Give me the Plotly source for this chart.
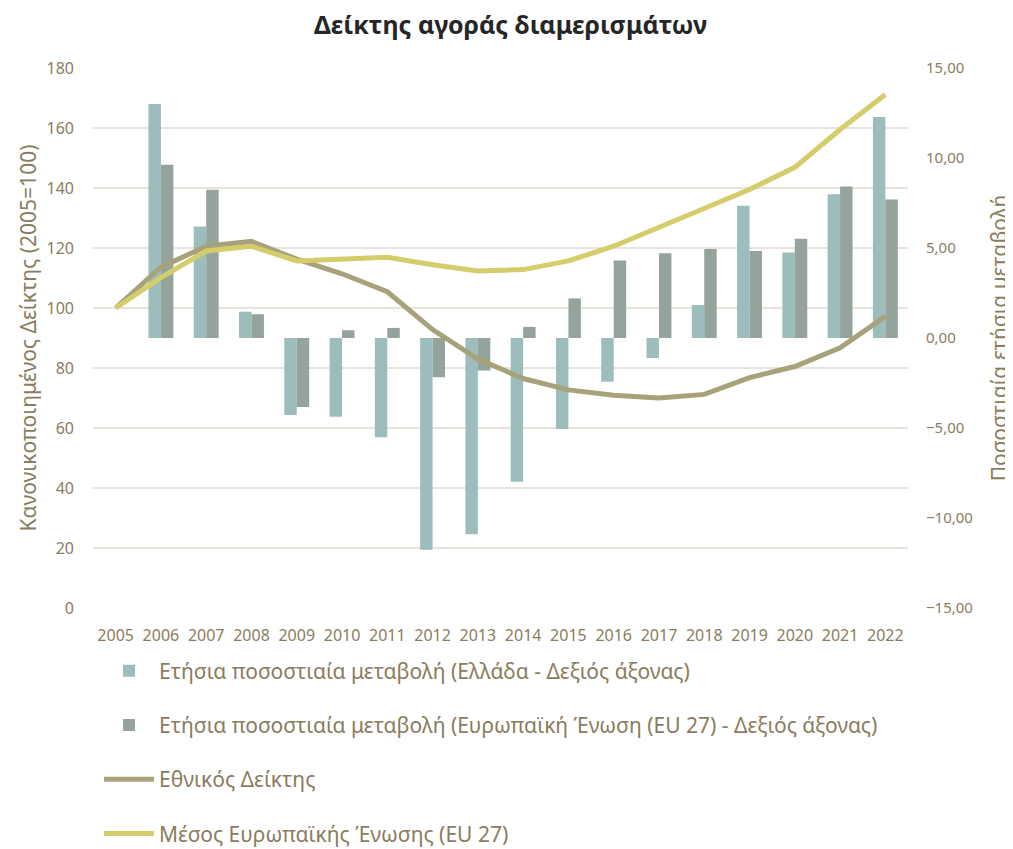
import plotly.graph_objects as go

years = [str(y) for y in range(2005, 2023)]
greece_change = [None, 13.0, 6.2, 1.46, -4.28, -4.38, -5.51, -11.77, -10.9, -7.98, -5.06, -2.43, -1.11, 1.83, 7.35, 4.75, 7.98, 12.28]
eu_change = [None, 9.63, 8.23, 1.32, -3.83, 0.43, 0.56, -2.18, -1.81, 0.62, 2.2, 4.3, 4.71, 4.94, 4.84, 5.51, 8.42, 7.70]
national_index = [100, 113.6, 120.6, 122.2, 116.3, 111.4, 105.4, 92.8, 83.0, 76.5, 72.7, 70.9, 70.0, 71.2, 76.8, 80.5, 86.7, 97.2]
eu_index = [100, 110.1, 119.0, 120.6, 115.7, 116.3, 116.9, 114.4, 112.3, 112.8, 115.7, 120.6, 126.8, 133.0, 139.5, 146.9, 159.5, 171.2]

left_ticks = list(range(0, 181, 20))
right_ticks = [-15, -10, -5, 0, 5, 10, 15]

FONT = "Noto Sans"
TXT = "#8A7C5E"

fig = go.Figure()
fig.add_trace(go.Bar(x=years, y=greece_change, name="Ετήσια ποσοστιαία μεταβολή (Ελλάδα - Δεξιός άξονας)",
                     marker=dict(color="#9DBDBD", line=dict(width=0)), yaxis="y", legendgroup="a"))
fig.add_trace(go.Bar(x=years, y=eu_change, name="Ετήσια ποσοστιαία μεταβολή (Ευρωπαϊκή Ένωση (EU 27) - Δεξιός άξονας)",
                     marker=dict(color="#94A39B", line=dict(width=0)), yaxis="y", legendgroup="b"))
fig.add_trace(go.Scatter(x=years, y=national_index, name="Εθνικός Δείκτης", mode="lines",
                         line=dict(color="#A8A27B", width=5), yaxis="y2", legendgroup="c"))
fig.add_trace(go.Scatter(x=years, y=eu_index, name="Μέσος Ευρωπαϊκής Ένωσης (EU 27)", mode="lines",
                         line=dict(color="#D5CC6A", width=5), yaxis="y2", legendgroup="d"))

fig.update_layout(
    width=1005, height=841,
    paper_bgcolor="white", plot_bgcolor="white",
    font=dict(family=FONT, color=TXT),
    separators=", ",
    title=dict(text="<b>Δείκτης αγοράς διαμερισμάτων</b>", x=0.5, xanchor="center", y=0.980, yanchor="middle",
               font=dict(family=FONT, size=25, color="#262626")),
    margin=dict(l=85, r=105, t=60, b=241),
    barmode="group", bargap=0.45, bargroupgap=0,
    xaxis=dict(type="category", showgrid=False, showline=False, ticks="", automargin=False,
               ticklabelstandoff=16, tickfont=dict(size=16, color=TXT)),
    yaxis=dict(side="right", range=[-15, 15], tickvals=right_ticks, tickformat=".2f",
               showgrid=False, zeroline=False, showline=False, ticks="", automargin=False,
               ticklabelstandoff=17, tickfont=dict(size=15, color=TXT),
               title=dict(text="Ποσοστιαία ετήσια μεταβολή", font=dict(size=21, color=TXT), standoff=22)),
    yaxis2=dict(side="left", overlaying="y", range=[0, 180], tickvals=left_ticks,
                showgrid=True, gridcolor="#E8E4DB", gridwidth=2, zeroline=False, showline=False, ticks="",
                automargin=False, ticklabelstandoff=18, tickfont=dict(size=16, color=TXT),
                title=dict(text="Κανονικοποιημένος Δείκτης (2005=100)", font=dict(size=21, color=TXT), standoff=4)),
    legend=dict(orientation="v", x=0.0074, xanchor="left", xref="paper",
                y=0.236, yanchor="top", yref="container",
                font=dict(size=21, color=TXT), tracegroupgap=24, itemwidth=50,
                bgcolor="rgba(0,0,0,0)"),
    showlegend=True,
)

fig.write_html("out.html")
